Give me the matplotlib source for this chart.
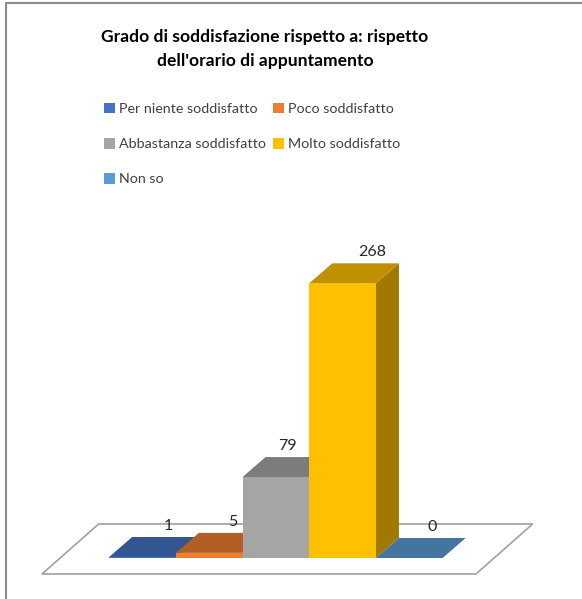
import matplotlib
matplotlib.use("Agg")
import matplotlib.pyplot as plt
from matplotlib.patches import Polygon, Patch
from matplotlib.lines import Line2D

plt.rcParams['font.family'] = ['Lato', 'DejaVu Sans']

categories = ["Per niente soddisfatto", "Poco soddisfatto", "Abbastanza soddisfatto",
              "Molto soddisfatto", "Non so"]
values = [1, 5, 79, 268, 0]
colors = ["#4472C4", "#ED7D31", "#A5A5A5", "#FFC000", "#5B9BD5"]
title = "Grado di soddisfazione rispetto a: rispetto\ndell'orario di appuntamento"
# horizontal shift of each data label (Excel nudges the "79" away from the tall bar)
label_shift = [0.39, 0.35, 0.17, 0.45, 0.35]


def shade(c, f):
    r, g, b = matplotlib.colors.to_rgb(c)
    return (r * f, g * f, b * f)


fig = plt.figure(figsize=(5.82, 5.99), dpi=100)
ax = fig.add_axes([0, 0, 1, 1])
ax.set_xlim(-2.137, 6.59)
ax.set_ylim(-40, 544.4)
ax.axis('off')

# depth of the fake 3d look (in data units)
dx, dy = 0.345, 19.5

# floor
fx0, fx1 = -1.507, 5.0
fy0 = -15.6
floor = [(fx0, fy0), (fx1, fy0), (fx1 + 0.85, fy0 + 48.8), (fx0 + 0.85, fy0 + 48.8)]
ax.add_patch(Polygon(floor, closed=True, facecolor='white', edgecolor='#A0A0A0', lw=1.2, zorder=1))

x = list(range(len(values)))
bars = ax.bar(x, values, width=1.0, color=colors, zorder=5, linewidth=0)
for i, (xi, v, c) in enumerate(zip(x, values, colors)):
    z = 2 + i * 3
    side = [(xi + 0.5, 0), (xi + 0.5 + dx, dy), (xi + 0.5 + dx, v + dy), (xi + 0.5, v)]
    top = [(xi - 0.5, v), (xi + 0.5, v), (xi + 0.5 + dx, v + dy), (xi - 0.5 + dx, v + dy)]
    ax.add_patch(Polygon(side, closed=True, facecolor=shade(c, 0.63), lw=0, zorder=z))
    ax.add_patch(Polygon(top, closed=True, facecolor=shade(c, 0.75), lw=0, zorder=z + 1))
    bars[i].set_zorder(z + 2)
    ax.text(xi + label_shift[i], v + dy + 4, str(v), ha='center', va='bottom',
            fontsize=11.5, color='#262626', zorder=30)

fig.text(265 / 582, 1 - 49 / 599, title, ha='center', va='center',
         fontsize=12.6, fontweight='bold', linespacing=1.6, color='black')

order = [0, 2, 4, 1, 3]
handles = [Patch(facecolor=colors[i]) for i in order]
labels = [categories[i] for i in order]
fig.legend(handles, labels, ncol=2, loc='upper left',
           bbox_to_anchor=(104 / 582, 1 - 103 / 599), bbox_transform=fig.transFigure,
           frameon=False, fontsize=10.3, borderpad=0, borderaxespad=0,
           handlelength=0.75, handleheight=0.75, handletextpad=0.3,
           labelspacing=1.6, columnspacing=0.5, labelcolor='#404040')

# chart border (only left and top visible)
fig.add_artist(Line2D([6 / 582, 6 / 582, 1], [0, 1 - 3 / 599, 1 - 3 / 599],
                      transform=fig.transFigure, color='#8C8C8C', lw=1.5))

fig.savefig("out.png", dpi=100)
